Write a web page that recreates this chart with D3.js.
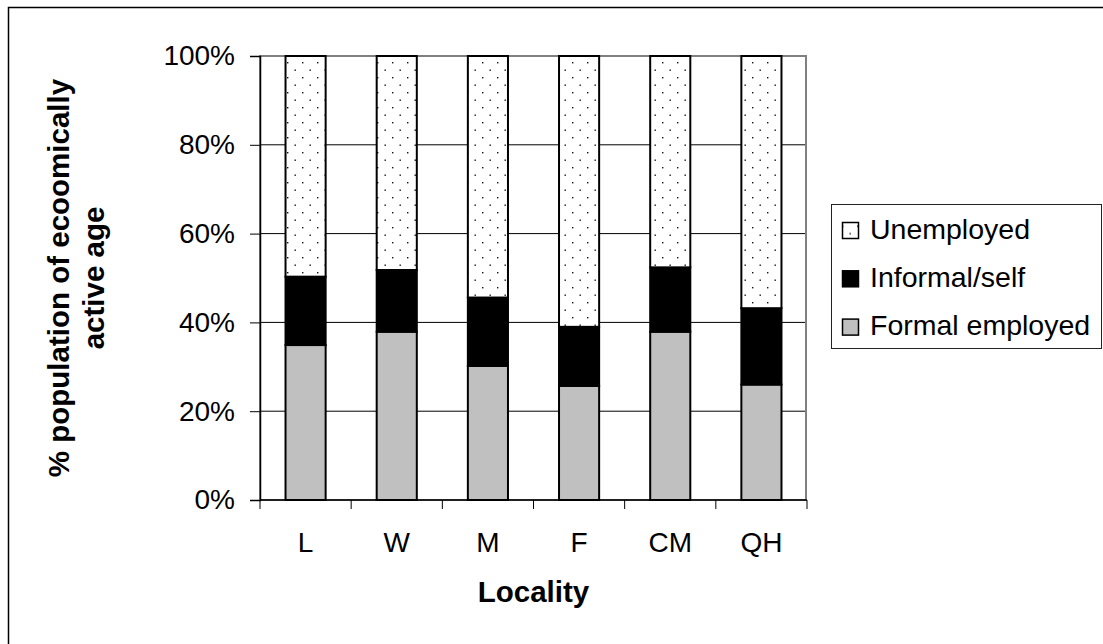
<!DOCTYPE html>
<html>
<head>
<meta charset="utf-8">
<script src="https://cdn.jsdelivr.net/npm/d3@7"></script>
<style>
  body { margin: 0; background: #fff; }
  svg { display: block; font-family: Arial, "Liberation Sans", sans-serif; }
</style>
</head>
<body>
<div class="chart"></div>
<script>
(function() {
  'use strict';

  var categories = ["L", "W", "M", "F", "CM", "QH"];
  var formal = [34.9, 37.9, 30.2, 25.7, 37.9, 26.0];
  var informal = [15.4, 13.9, 15.4, 13.3, 14.5, 17.2];
  var unemployed = [49.7, 48.2, 54.4, 61.0, 47.6, 56.8];
  var seriesNames = ["Formal employed", "Informal/self", "Unemployed"];
  var yTicks = [0, 20, 40, 60, 80, 100];

  var width = 1103, height = 644;
  var left = 260, right = 807, top = 56, bottom = 500;

  var svg = d3.select(".chart").append("svg")
    .attr("width", width)
    .attr("height", height);

  var defs = svg.append("defs");
  var pat = defs.append("pattern")
    .attr("id", "dots")
    .attr("patternUnits", "userSpaceOnUse")
    .attr("width", 15)
    .attr("height", 15);
  pat.append("rect").attr("width", 15).attr("height", 15).attr("fill", "#fff");
  pat.append("rect").attr("x", 2).attr("y", 2).attr("width", 1.4).attr("height", 1.4).attr("fill", "#111");
  pat.append("rect").attr("x", 9.5).attr("y", 9.5).attr("width", 1.4).attr("height", 1.4).attr("fill", "#111");

  var fills = {
    "Formal employed": "#c0c0c0",
    "Informal/self": "#000",
    "Unemployed": "url(#dots)"
  };

  // outer frame (right and bottom edges fall outside the picture)
  svg.append("rect")
    .attr("x", 8.5).attr("y", 7.5)
    .attr("width", 1200).attr("height", 700)
    .attr("fill", "none")
    .attr("stroke", "#000")
    .attr("stroke-width", 1.5);

  var table = categories.map(function(c, i) {
    return { cat: c, "Formal employed": formal[i], "Informal/self": informal[i], "Unemployed": unemployed[i] };
  });

  var x = d3.scaleBand()
    .domain(categories)
    .range([left, right])
    .paddingInner(0.56)
    .paddingOuter(0.28);

  var xEdge = d3.scaleBand()
    .domain(categories)
    .range([left, right]);

  var y = d3.scaleLinear()
    .domain([0, 100])
    .range([bottom, top]);

  // gridlines
  svg.append("g").selectAll("line")
    .data(yTicks.filter(function(d) { return d > 0 && d < 100; }))
    .enter().append("line")
    .attr("x1", left).attr("x2", right)
    .attr("y1", function(d) { return y(d); })
    .attr("y2", function(d) { return y(d); })
    .attr("stroke", "#000")
    .attr("stroke-width", 1);

  // plot frame
  svg.append("rect")
    .attr("x", left).attr("y", top)
    .attr("width", right - left - 1).attr("height", bottom - top)
    .attr("fill", "none")
    .attr("stroke", "#808080")
    .attr("stroke-width", 2);

  var stack = d3.stack().keys(seriesNames);
  var layers = svg.append("g").selectAll("g")
    .data(stack(table))
    .enter().append("g")
    .attr("fill", function(d) { return fills[d.key]; });

  layers.selectAll("rect")
    .data(function(d) { return d; })
    .enter().append("rect")
    .attr("x", function(d) { return x(d.data.cat); })
    .attr("width", x.bandwidth())
    .attr("y", function(d) { return y(d[1]); })
    .attr("height", function(d) { return y(d[0]) - y(d[1]); })
    .attr("stroke", "#000")
    .attr("stroke-width", 2);

  // y axis
  var yAxis = svg.append("g")
    .attr("transform", "translate(" + left + ",0)")
    .call(d3.axisLeft(y).tickValues(yTicks).tickSize(10).tickPadding(15)
      .tickFormat(function(d) { return d + "%"; }));
  yAxis.select(".domain").attr("stroke", "#000").attr("stroke-width", 1.5);
  yAxis.selectAll(".tick line").attr("stroke", "#000");
  yAxis.selectAll("text").attr("font-size", 28).attr("fill", "#000")
    .attr("font-family", "Arial, 'Liberation Sans', sans-serif");

  // x axis
  var xAxis = svg.append("g")
    .attr("transform", "translate(0," + bottom + ")")
    .call(d3.axisBottom(x).tickSize(0).tickPadding(32));
  xAxis.select(".domain").remove();
  xAxis.selectAll("text").attr("font-size", 28).attr("fill", "#000")
    .attr("font-family", "Arial, 'Liberation Sans', sans-serif");

  svg.append("line")
    .attr("x1", left).attr("x2", right)
    .attr("y1", bottom).attr("y2", bottom)
    .attr("stroke", "#000").attr("stroke-width", 1.5);

  var edges = categories.map(function(c) { return xEdge(c); }).concat([right]);
  svg.append("g").selectAll("line")
    .data(edges)
    .enter().append("line")
    .attr("x1", function(d) { return d; })
    .attr("x2", function(d) { return d; })
    .attr("y1", bottom).attr("y2", bottom + 9)
    .attr("stroke", "#000");

  // axis titles
  svg.append("text")
    .attr("transform", "translate(" + (left + right) / 2 + ",602)")
    .attr("text-anchor", "middle")
    .attr("font-size", 29.5)
    .attr("font-weight", "bold")
    .text("Locality");

  svg.append("text")
    .attr("transform", "translate(69,278) rotate(-90)")
    .attr("text-anchor", "middle")
    .attr("font-size", 29.5)
    .attr("font-weight", "bold")
    .text("% population of ecoomically");

  svg.append("text")
    .attr("transform", "translate(104,278) rotate(-90)")
    .attr("text-anchor", "middle")
    .attr("font-size", 29.5)
    .attr("font-weight", "bold")
    .text("active age");

  // legend
  var legend = svg.append("g");
  legend.append("rect")
    .attr("x", 831.5).attr("y", 204.5)
    .attr("width", 270).attr("height", 144)
    .attr("fill", "#fff")
    .attr("stroke", "#222")
    .attr("stroke-width", 1);

  var items = legend.selectAll("g")
    .data(seriesNames.slice().reverse())
    .enter().append("g")
    .attr("transform", function(d, i) { return "translate(0," + (238.5 + i * 48.3) + ")"; });

  items.append("rect")
    .attr("x", 842.5).attr("y", -16)
    .attr("width", 16).attr("height", 16)
    .attr("fill", function(d) { return fills[d]; })
    .attr("stroke", "#000")
    .attr("stroke-width", 1.5);

  items.append("text")
    .attr("x", 870)
    .attr("y", 0)
    .attr("font-size", 28.5)
    .text(function(d) { return d; });
})();
</script>
</body>
</html>
